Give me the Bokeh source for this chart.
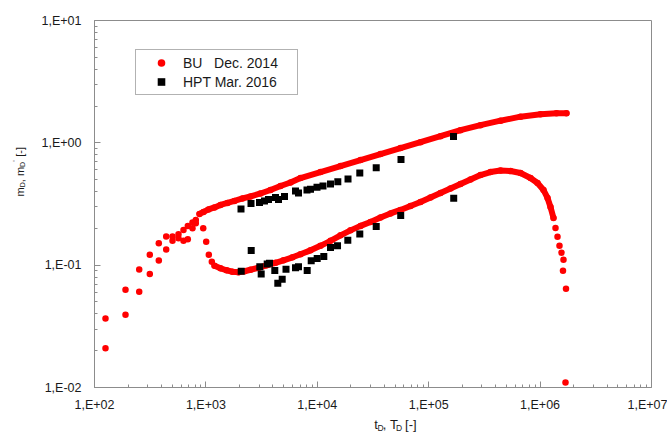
import math
from bokeh.plotting import figure
from bokeh.layouts import row, column
from bokeh.models import (FixedTicker, CustomJSTickFormatter, Legend, LegendItem,
                          Label, Range1d)
from bokeh.embed import file_html
from bokeh.resources import INLINE

# ---------------- data ----------------
# BU Dec. 2014 - early scattered points (pressure and derivative)
bu_early_t = [125.5, 125.5, 189.8, 189.8, 252, 252, 313.6, 313.6, 377.8, 377.8,
              440.1, 440.1, 501.4, 501.4, 567.5, 567.5, 629.3, 629.3, 687.9, 687.9,
              758, 758, 811.7, 811.7]
bu_early_m = [0.0366, 0.0209, 0.0630, 0.0394, 0.0923, 0.0607, 0.1216, 0.0846,
              0.1514, 0.1092, 0.1713, 0.1343, 0.1713, 0.1581, 0.1793, 0.1663,
              0.1943, 0.1581, 0.2095, 0.1632, 0.2228, 0.2006, 0.2344, 0.2203]

# BU Dec. 2014 - pressure m_D
bu_p_t = [876, 952, 1055, 1195, 1352, 1563, 1806, 2131, 2514, 3092, 3801, 4674,
          5746, 7066, 10680, 16160, 24430, 36930, 55840, 84430, 127600, 193000,
          291700, 441000, 667100, 1008000, 1404000, 1726000]
bu_p_m = [0.2624, 0.2724, 0.2855, 0.2964, 0.3107, 0.3226, 0.3350, 0.3510, 0.3644,
          0.3855, 0.4116, 0.4436, 0.4737, 0.5156, 0.5770, 0.6457, 0.7228, 0.8090,
          0.9054, 1.0132, 1.134, 1.269, 1.394, 1.517, 1.636, 1.713, 1.746, 1.746]

# BU Dec. 2014 - derivative m_D'
bu_d_t = [946, 1006, 1062, 1130, 1195, 1352, 1531, 1733, 1962, 2221, 2514, 2967,
          3499, 4215, 4972, 5989, 7066, 8692, 10680, 13140, 16160, 19860, 24430,
          30040, 36930, 45410, 55840, 68650, 84430, 103800, 127600, 156900, 193000,
          237300, 291700, 358700, 441000, 542300, 667100, 820000, 947800, 1073000,
          1166000, 1240000, 1319000, 1375000, 1433000, 1493000]
bu_d_m = [0.2006, 0.1551, 0.1216, 0.1066, 0.0989, 0.0943, 0.0909, 0.0884, 0.0875,
          0.0892, 0.0917, 0.0952, 0.0998, 0.1046, 0.1096, 0.1160, 0.1227, 0.1322,
          0.1439, 0.1581, 0.1753, 0.1925, 0.2095, 0.2257, 0.2456, 0.2649, 0.2828,
          0.3049, 0.3288, 0.3577, 0.3891, 0.4234, 0.4606, 0.5012, 0.5455, 0.5770,
          0.5935, 0.5880, 0.5664, 0.5156, 0.4694, 0.4116, 0.3543, 0.2992, 0.2433,
          0.2017, 0.1704, 0.1439]
bu_tail_t = [1556000, 1622000, 1605000, 1708000, 1690000]
bu_tail_m = [0.1262, 0.1107, 0.0901, 0.0642, 0.0110]

# HPT Mar. 2016
hpt_p_t = [2066, 2540, 3028, 3357, 3647, 4215, 4485, 5077, 6373, 6780, 8081, 8692,
           9938, 11250, 13140, 15280, 18870, 24070, 33800, 56410, 167000]
hpt_p_m = [0.2882, 0.3196, 0.3256, 0.3350, 0.3446, 0.3577, 0.3446, 0.3644, 0.4040,
           0.3891, 0.4116, 0.4170, 0.4330, 0.4436, 0.4606, 0.4809, 0.5059, 0.5664,
           0.6254, 0.7323, 1.127]
hpt_d_t = [2075, 2551, 3047, 3136, 3550, 3723, 4154, 4420, 4841, 5236, 6373, 6780,
           8115, 8818, 9979, 11440, 13140, 15190, 18790, 24070, 33800, 56070, 167700]
hpt_d_m = [0.0892, 0.1317, 0.0970, 0.0846, 0.1021, 0.1036, 0.0905, 0.0712, 0.0768,
           0.0926, 0.0952, 0.0970, 0.0904, 0.1086, 0.1134, 0.1177, 0.1394, 0.1444,
           0.1596, 0.1796, 0.2067, 0.2551, 0.3523]

x_tick_values = [1e2, 1e3, 1e4, 1e5, 1e6, 1e7]
y_tick_values = [1e-2, 1e-1, 1e0, 1e1]
legend_labels = ["BU\u00a0\u00a0\u00a0Dec. 2014", "HPT Mar. 2016"]

# ---------------- figure ----------------
FONT = "Liberation Sans"
RED = "#ff0000"
GRAY = "#8c8c8c"
TXT = "#1a1a1a"

YLAB_W = 30     # strip for the rotated y title
MAIN_H = 414    # main plot height; strip below holds the x title

p = figure(width=667 - YLAB_W, height=MAIN_H, x_axis_type="log", y_axis_type="log",
           x_range=Range1d(1e2, 1e7), y_range=Range1d(1e-2, 1e1),
           output_backend="svg", toolbar_location=None,
           min_border_left=94 - YLAB_W, min_border_right=16, min_border_top=20,
           min_border_bottom=MAIN_H - 388)
p.xgrid.visible = False
p.ygrid.visible = False
p.outline_line_color = GRAY
p.outline_line_width = 1

fmt_code = """
const e = Math.round(Math.log10(tick));
const s = e < 0 ? "-" : "+";
const a = Math.abs(e);
return "1,E" + s + (a < 10 ? "0" : "") + a;
"""
x_minor = [m * 10 ** e for e in range(2, 7) for m in range(2, 10)]
y_minor = [m * 10.0 ** e for e in range(-2, 1) for m in range(2, 10)]
p.xaxis.ticker = FixedTicker(ticks=x_tick_values, minor_ticks=x_minor)
p.yaxis.ticker = FixedTicker(ticks=y_tick_values, minor_ticks=y_minor)
for ax in (p.xaxis, p.yaxis):
    ax.formatter = CustomJSTickFormatter(code=fmt_code)
    ax.axis_line_color = GRAY
    ax.major_tick_line_color = GRAY
    ax.minor_tick_line_color = GRAY
    ax.major_tick_in = 6
    ax.major_tick_out = 0
    ax.minor_tick_in = 3
    ax.minor_tick_out = 0
    ax.major_label_text_font = FONT
    ax.major_label_text_font_size = "12.5px"
    ax.major_label_text_color = TXT
p.xaxis.major_label_standoff = 10
p.yaxis.major_label_standoff = 13

# curves drawn as thick lines of dots
p.line(bu_p_t, bu_p_m, line_color=RED, line_width=6, line_cap="round", line_join="round")
p.line(bu_d_t[4:45], bu_d_m[4:45], line_color=RED, line_width=6, line_cap="round",
       line_join="round")
r_bu = p.scatter(bu_early_t, bu_early_m, marker="circle", size=6.5, fill_color=RED,
                 line_color=None)
p.scatter(bu_p_t, bu_p_m, marker="circle", size=6.5, fill_color=RED, line_color=None)
p.scatter(bu_d_t, bu_d_m, marker="circle", size=6.5, fill_color=RED, line_color=None)
p.scatter(bu_tail_t, bu_tail_m, marker="circle", size=6.5, fill_color=RED, line_color=None)

r_hpt = p.scatter(hpt_p_t, hpt_p_m, marker="square", size=7, fill_color="black",
                  line_color=None)
p.scatter(hpt_d_t, hpt_d_m, marker="square", size=7, fill_color="black", line_color=None)

legend = Legend(items=[LegendItem(label=legend_labels[0], renderers=[r_bu]),
                       LegendItem(label=legend_labels[1], renderers=[r_hpt])],
                location=(41, 292), padding=3, spacing=0, margin=0,
                glyph_width=44, glyph_height=19, label_height=19, label_width=111,
                label_standoff=0, border_line_color="#666666", border_line_width=1,
                label_text_font=FONT, label_text_font_size="14px",
                label_text_color=TXT, background_fill_color="white",
                background_fill_alpha=1)
p.add_layout(legend)


def strip(w, h, x0, y0):
    """A blank figure whose data units are page pixels (y downward)."""
    f = figure(width=w, height=h, x_range=Range1d(x0, x0 + w),
               y_range=Range1d(y0 + h, y0), output_backend="svg",
               toolbar_location=None, min_border=0, x_axis_location=None,
               y_axis_location=None, outline_line_color=None)
    f.xgrid.visible = False
    f.ygrid.visible = False
    return f


def rich(f, parts, x0, y0, vertical=False):
    """Place a run of text pieces (with sub/superscripts)."""
    pos = 0.0
    for text, size, adv, shift in parts:
        if vertical:
            x, y, ang = x0 + shift, y0 - pos, math.pi / 2
        else:
            x, y, ang = x0 + pos, y0 + shift, 0.0
        f.add_layout(Label(x=x, y=y, text=text, angle=ang, text_font=FONT,
                           text_font_size=f"{size}px", text_color=TXT,
                           text_align="left", text_baseline="alphabetic"))
        pos += adv


ylab = strip(YLAB_W, 434, 0, 0)
xlab = strip(667 - YLAB_W, 434 - MAIN_H, YLAB_W, MAIN_H)

# x axis title: t_D, T_D [-]
rich(xlab, [("t", 13, 3.6, 0), ("D", 8.5, 6.1, 3), (",\u00a0T", 13, 15.2, 0),
            ("D", 8.5, 6.1, 3), ("\u00a0[-]", 13, 15.2, 0)], 350, 424)
# y axis title: m_D, m_D' [-]
rich(ylab, [("m", 11, 9.2, 0), ("D", 7, 5.1, 2.5), (",\u00a0m", 11, 15.3, 0),
            ("D", 7, 5.1, 2.5), ("'", 8, 2.0, -4), ("\u00a0[-]", 11, 12.8, 0)],
     19, 196, vertical=True)

layout = row(ylab, column(p, xlab, spacing=0), spacing=0)
open("out.html", "w").write(file_html(layout, INLINE))
